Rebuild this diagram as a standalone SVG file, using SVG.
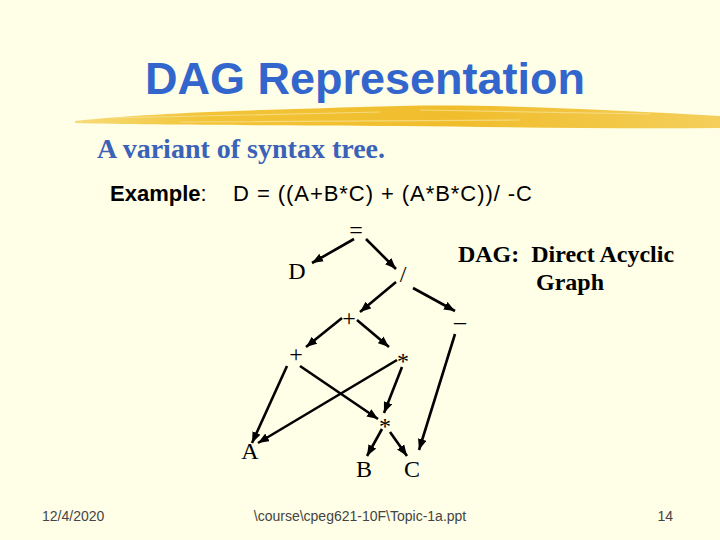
<svg xmlns="http://www.w3.org/2000/svg" width="720" height="540" viewBox="0 0 720 540">
<defs>
<style>
.node{font-family:"Liberation Serif","Times New Roman",serif;font-size:24px;fill:#000;}
.edge{stroke:#000;stroke-width:2.6;fill:none;marker-end:url(#ah);}
.foot{font-family:"Liberation Sans",Arial,sans-serif;font-size:14px;fill:#444;}
.ex{font-family:"Liberation Sans",Arial,sans-serif;font-size:22px;fill:#000;}
</style>
<marker id="ah" viewBox="0 0 10 8" refX="10" refY="4" markerWidth="11" markerHeight="9" markerUnits="userSpaceOnUse" orient="auto">
<path d="M0,0 L10,4 L0,8 Z" fill="#000"/>
</marker>
<linearGradient id="brush" x1="0" y1="0" x2="1" y2="0">
<stop offset="0" stop-color="#f6dc7a"/>
<stop offset="0.2" stop-color="#f2c437"/>
<stop offset="0.6" stop-color="#f0bd2c"/>
<stop offset="1" stop-color="#f4cf5a"/>
</linearGradient>
</defs>
<rect width="720" height="540" fill="#fffee6"/>
<g id="brushstroke">
<path d="M75,121 C150,113 250,110 400,106 C500,104 610,110 720,116 L720,128 C610,129 500,127 400,126 C250,125 150,125 75,123 Z" fill="url(#brush)"/>
<path d="M110,118 L380,112 M420,110 L650,114 M180,122 L520,120" stroke="#f9e49a" stroke-width="1.2" opacity="0.7"/>
</g>
<g id="title">
<text x="365" y="94" text-anchor="middle" font-family="Liberation Sans,Arial,sans-serif" font-weight="bold" font-size="45" fill="#3366cc">DAG Representation</text>
</g>
<g id="subtitle">
<text x="97" y="158" font-family="Liberation Serif,Times New Roman,serif" font-weight="bold" font-size="28" fill="#3a62b8">A variant of syntax tree.</text>
<text class="ex" x="110" y="201" font-size="21"><tspan font-weight="bold">Example</tspan>:</text>
<text class="ex" x="233" y="201" textLength="299">D = ((A+B*C) + (A*B*C))/ -C</text>
</g>
<g id="note">
<text x="566" y="262" text-anchor="middle" font-family="Liberation Serif,Times New Roman,serif" font-weight="bold" font-size="24" fill="#000" xml:space="preserve">DAG:  Direct Acyclic</text>
<text x="570" y="290" text-anchor="middle" font-family="Liberation Serif,Times New Roman,serif" font-weight="bold" font-size="24" fill="#000">Graph</text>
</g>
<g id="connectors">
<line class="edge" x1="354" y1="239" x2="312" y2="263"/>
<line class="edge" x1="366" y1="239" x2="396" y2="269"/>
<line class="edge" x1="396" y1="282" x2="360" y2="312"/>
<line class="edge" x1="413" y1="288" x2="455" y2="311"/>
<line class="edge" x1="342" y1="318" x2="306" y2="347"/>
<line class="edge" x1="357" y1="320" x2="389" y2="347"/>
<line class="edge" x1="455" y1="334" x2="419" y2="450"/>
<line class="edge" x1="287" y1="366" x2="252" y2="443"/>
<line class="edge" x1="300" y1="366" x2="378" y2="419"/>
<line class="edge" x1="397" y1="360" x2="258" y2="443"/>
<line class="edge" x1="402" y1="367" x2="384" y2="413"/>
<line class="edge" x1="382" y1="429" x2="367" y2="456"/>
<line class="edge" x1="390" y1="432" x2="407" y2="456"/>
</g>
<g id="n-assign"><text class="node" x="356" y="238" text-anchor="middle">=</text></g>
<g id="n-D"><text class="node" x="297" y="279" text-anchor="middle">D</text></g>
<g id="n-div"><text class="node" x="403" y="282" text-anchor="middle">/</text></g>
<g id="n-plus1"><text class="node" x="349" y="326" text-anchor="middle">+</text></g>
<g id="n-neg"><text class="node" x="460" y="329" text-anchor="middle">–</text></g>
<g id="n-plus2"><text class="node" x="296" y="362" text-anchor="middle">+</text></g>
<g id="n-mul1"><text class="node" x="403" y="369" text-anchor="middle">*</text></g>
<g id="n-mul2"><text class="node" x="385" y="434" text-anchor="middle">*</text></g>
<g id="n-A"><text class="node" x="250" y="459" text-anchor="middle">A</text></g>
<g id="n-B"><text class="node" x="364" y="477" text-anchor="middle">B</text></g>
<g id="n-C"><text class="node" x="412" y="477" text-anchor="middle">C</text></g>
<g id="footer">
<text class="foot" x="42" y="521">12/4/2020</text>
<text class="foot" x="360" y="521" text-anchor="middle">\course\cpeg621-10F\Topic-1a.ppt</text>
<text class="foot" x="673" y="521" text-anchor="end">14</text>
</g>
</svg>
